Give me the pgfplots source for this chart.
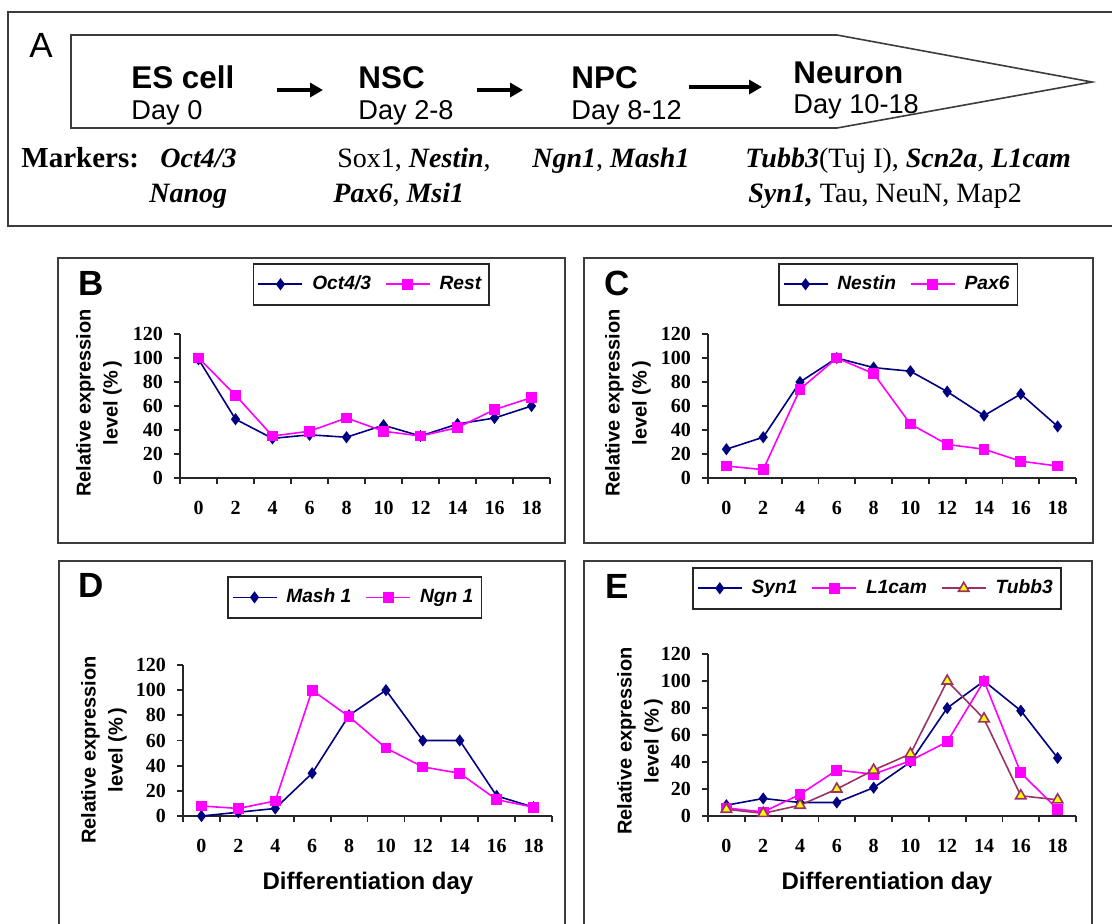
\documentclass[border=0pt]{standalone}
\usepackage{fontspec}
\setmainfont{Liberation Serif}
\newfontfamily\arial{Liberation Sans}
\usepackage{pgfplots}
\pgfplotsset{compat=1.18}
\usetikzlibrary{arrows.meta}
\definecolor{navy}{RGB}{0,0,128}
\definecolor{mag}{RGB}{255,0,255}
\definecolor{plum}{RGB}{153,51,102}
\definecolor{yel}{RGB}{255,255,0}
\definecolor{boxgray}{RGB}{60,60,60}
\newcommand{\bi}[1]{\textbf{\textit{#1}}}
\pgfplotsset{
  panel/.style={
    scale only axis, anchor=south west,
    xmin=-1, xmax=19, ymin=0, ymax=120,
    axis x line*=bottom, axis y line*=left,
    axis line style={line width=0.9pt, black!85},
    ytick={0,20,...,120},
    xtick={-1,1,...,19}, xticklabels={},
    extra x ticks={0,2,...,18},
    extra x tick labels={0,2,4,6,8,10,12,14,16,18},
    extra x tick style={major tick length=0pt, xticklabel style={yshift=-8pt}},
    tick align=outside, major tick length=3pt,
    tick style={line width=0.9pt, black!85},
    tick label style={font=\fontsize{10}{11}\selectfont\bfseries},
    /pgf/number format/assume math mode=true,
    yticklabel style={xshift=-2pt},
    legend style={draw=black!85, line width=0.8pt,
      font=\arial\fontsize{9.6}{12}\selectfont\bfseries\itshape,
      legend columns=-1, anchor=north west, inner xsep=2pt, inner ysep=4pt,
      /tikz/every even column/.append style={column sep=5pt},
      /tikz/every odd column/.append style={column sep=2.5pt}},
    legend cell align=left,
    legend image code/.code={\draw[mark repeat=2,mark phase=2] plot coordinates {(0pt,0pt)(11pt,0pt)(22pt,0pt)};},
    clip=false,
  },
  s1/.style={navy, line width=0.8pt, mark=diamond*, mark size=2.4pt, mark options={fill=navy, draw=navy, solid}},
  s2/.style={mag, line width=0.8pt, mark=square*, mark size=2.3pt, mark options={fill=mag, draw=mag, solid}},
  s3/.style={plum, line width=0.8pt, mark=triangle*, mark size=3pt, mark options={fill=yel, draw=plum, solid}},
}
\begin{document}
\begin{tikzpicture}[x=0.5pt,y=-0.5pt]
\path[use as bounding box] (0,0) rectangle (1112,923);
\clip (0,0) rectangle (1112,923);
% ---------------- Panel A ----------------
\draw[boxgray, line width=1pt] (8,12) rectangle (1130,226);
\draw[boxgray, line width=0.8pt] (71,35) -- (837,35) -- (1092,82) -- (837,128) -- (71,128) -- cycle;
\node[font=\arial\fontsize{17.5}{20}\selectfont, anchor=base, inner sep=0pt] at (41,57) {A};
\begin{scope}[font=\arial\fontsize{15.7}{18}\selectfont\bfseries]
\node[anchor=base west, inner sep=0pt] at (131,88) {ES cell};
\node[anchor=base west, inner sep=0pt] at (358,88) {NSC};
\node[anchor=base west, inner sep=0pt] at (571,88) {NPC};
\node[anchor=base west, inner sep=0pt] at (793,83) {Neuron};
\end{scope}
\begin{scope}[font=\arial\fontsize{13.6}{16}\selectfont]
\node[anchor=base west, inner sep=0pt] at (131,119) {Day 0};
\node[anchor=base west, inner sep=0pt] at (358,119) {Day 2-8};
\node[anchor=base west, inner sep=0pt] at (571,119) {Day 8-12};
\node[anchor=base west, inner sep=0pt] at (793,113) {Day 10-18};
\end{scope}
\draw[line width=2.4pt, -{Triangle[length=6.5pt,width=7pt]}] (277,90) -- (323,90);
\draw[line width=2.4pt, -{Triangle[length=6.5pt,width=7pt]}] (477,90) -- (523,90);
\draw[line width=2.4pt, -{Triangle[length=6.5pt,width=7pt]}] (689,87) -- (762,87);
\begin{scope}[font=\fontsize{14}{16}\selectfont]
\node[anchor=base west, inner sep=0pt, font=\fontsize{14.5}{16}\selectfont\bfseries] at (21,167) {Markers:};
\node[anchor=base west, inner sep=0pt] at (160,167) {\bi{Oct4/3}};
\node[anchor=base west, inner sep=0pt] at (337,167) {Sox1, \bi{Nestin},};
\node[anchor=base west, inner sep=0pt] at (532,167) {\bi{Ngn1}, \bi{Mash1}};
\node[anchor=base west, inner sep=0pt] at (745,167) {\bi{Tubb3}(Tuj I), \bi{Scn2a}, \bi{L1cam}};
\node[anchor=base west, inner sep=0pt] at (149,202) {\bi{Nanog}};
\node[anchor=base west, inner sep=0pt] at (333,202) {\bi{Pax6}, \bi{Msi1}};
\node[anchor=base west, inner sep=0pt] at (748,202) {\bi{Syn1,} Tau, NeuN, Map2};
\end{scope}
% ---------------- Panel boxes ----------------
\draw[boxgray, line width=1pt] (58,258) rectangle (565,543);
\draw[boxgray, line width=1pt] (584,258) rectangle (1093,543);
\draw[boxgray, line width=1pt] (59,561) rectangle (565,940);
\draw[boxgray, line width=1pt] (584,561) rectangle (1092,940);
\begin{scope}[font=\arial\fontsize{17.5}{20}\selectfont\bfseries]
\node at (91,283) {B};
\node at (617,283) {C};
\node at (91,585) {D};
\node at (617,586) {E};
\end{scope}
\begin{scope}[font=\arial\fontsize{10}{13.5}\selectfont\bfseries]
\node[rotate=90, align=center] at (99,403) {Relative expression\\level (\%\,)};
\node[rotate=90, align=center] at (628,403) {Relative expression\\level (\%\,)};
\node[rotate=90, align=center] at (104,750) {Relative expression\\level (\%\,)};
\node[rotate=90, align=center] at (640,741) {Relative expression\\level (\%\,)};
\end{scope}
\begin{scope}[font=\arial\fontsize{12}{14}\selectfont\bfseries]
\node at (368,883) {Differentiation day};
\node at (887,883) {Differentiation day};
\end{scope}
% ---------------- Panel B ----------------
\begin{axis}[panel, at={(90pt,-239pt)}, width=185pt, height=72pt,
  legend style={at={(axis description cs:0.197,1.493)}}]
\addplot[s1] coordinates {(0,99)(2,49)(4,33)(6,36)(8,34)(10,44)(12,35)(14,45)(16,50)(18,60)};
\addplot[s2] coordinates {(0,100)(2,69)(4,35)(6,39)(8,50)(10,39)(12,35)(14,42)(16,57)(18,67)};
\legend{Oct4/3,Rest}
\end{axis}
% ---------------- Panel C ----------------
\begin{axis}[panel, at={(354pt,-239pt)}, width=184pt, height=72pt,
  legend style={at={(axis description cs:0.19,1.493)}}]
\addplot[s1] coordinates {(0,24)(2,34)(4,80)(6,100)(8,92)(10,89)(12,72)(14,52)(16,70)(18,43)};
\addplot[s2] coordinates {(0,10)(2,7)(4,74)(6,100)(8,87)(10,45)(12,28)(14,24)(16,14)(18,10)};
\legend{Nestin,Pax6}
\end{axis}
% ---------------- Panel D ----------------
\begin{axis}[panel, at={(91.5pt,-408pt)}, width=184.5pt, height=75.5pt,
  legend style={at={(axis description cs:0.119,1.589)}}]
\addplot[s1] coordinates {(0,0)(2,3)(4,6)(6,34)(8,80)(10,100)(12,60)(14,60)(16,16)(18,7)};
\addplot[s2] coordinates {(0,8)(2,6)(4,12)(6,100)(8,79)(10,54)(12,39)(14,34)(16,13)(18,7)};
\legend{Mash 1,Ngn 1}
\end{axis}
% ---------------- Panel E ----------------
\begin{axis}[panel, at={(354pt,-408pt)}, width=184pt, height=81pt,
  legend style={at={(axis description cs:-0.043,1.537)}}]
\addplot[s1] coordinates {(0,8)(2,13)(4,10)(6,10)(8,21)(10,40)(12,80)(14,100)(16,78)(18,43)};
\addplot[s2] coordinates {(0,6)(2,3)(4,16)(6,34)(8,31)(10,41)(12,55)(14,100)(16,32)(18,5)};
\addplot[s3] coordinates {(0,5)(2,2)(4,8)(6,20)(8,34)(10,46)(12,100)(14,72)(16,15)(18,12)};
\legend{Syn1,L1cam,Tubb3}
\end{axis}
\end{tikzpicture}
\end{document}
